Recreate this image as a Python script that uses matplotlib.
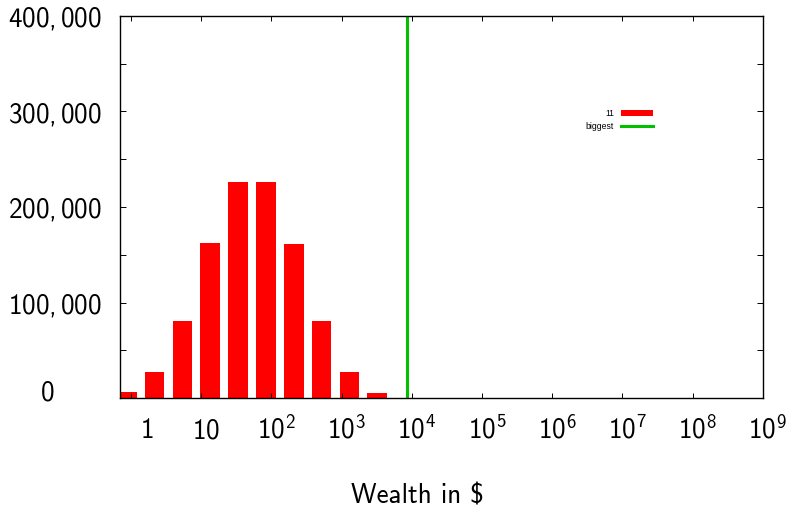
import numpy as np
import matplotlib
matplotlib.use("Agg")
import matplotlib.pyplot as plt
from matplotlib.transforms import ScaledTranslation

# Histogram of wealth (log-spaced bins)
bin_centers = [0.875, 2.17, 5.4, 13.4, 33.6, 83, 208, 515, 1290, 3180, 7980]
counts = [6300, 27200, 81100, 162700, 226100, 225800, 161600, 80800, 27200, 5900, 800]
biggest = 8650

xtick_vals = [1, 10, 1e2, 1e3, 1e4, 1e5, 1e6, 1e7, 1e8, 1e9]
xtick_labels = ["$1$", "$10$"] + [f"$10^{{{k}}}$" for k in range(2, 10)]
ytick_vals = [0, 100000, 200000, 300000, 400000]
ytick_labels = ["$0$", "$100,000$", "$200,000$", "$300,000$", "$400,000$"]

plt.rcParams["font.family"] = "cmss10"
plt.rcParams["mathtext.fontset"] = "custom"
plt.rcParams["mathtext.rm"] = "cmss10"
plt.rcParams["mathtext.it"] = "cmss10"
plt.rcParams["axes.unicode_minus"] = False

fig = plt.figure(figsize=(7.86, 5.07), dpi=100)
ax = fig.add_axes([120 / 786, 1 - 398.3 / 507, 642.7 / 786, 382.6 / 507])

# bars have constant width in log space (0.28 decade)
half = 10 ** 0.14
centers = np.array(bin_centers)
left = centers / half
right = centers * half
bars = ax.bar(left, counts, width=right - left, align="edge", color="#ff0000",
              linewidth=0, label="11")
vline = ax.axvline(biggest, color="#00c000", lw=2.2, label="biggest")

ax.set_xscale("log")
ax.set_xlim(0.697, 1e9)
ax.set_ylim(0, 400000)

ax.set_xticks(xtick_vals, xtick_labels, va="baseline", fontsize=19.5)
ax.xaxis.set_minor_locator(matplotlib.ticker.NullLocator())
ax.set_yticks(ytick_vals, ytick_labels, ha="center", fontsize=19.5)
ax.set_yticks(np.arange(50000, 400000, 100000), minor=True)

ax.tick_params(axis="x", which="both", direction="in", top=True, length=3.6,
               width=0.7, pad=28.6)
ax.tick_params(axis="y", which="both", direction="in", right=True, length=4.3,
               width=0.7, pad=47)
for s in ax.spines.values():
    s.set_linewidth(1.0)

# nudge labels like the original (gnuplot/latex placement)
for i, lbl in enumerate(ax.get_xticklabels()):
    dx = 16 if i == 0 else 5
    lbl.set_transform(lbl.get_transform() + ScaledTranslation(dx / 100, 0, fig.dpi_scale_trans))
ylbl0 = ax.get_yticklabels()[0]
ylbl0.set_transform(ylbl0.get_transform() + ScaledTranslation(-7 / 100, 8 / 100, fig.dpi_scale_trans))

ax.set_xlabel("Wealth in $", fontsize=19.5, va="top")
ax.xaxis.set_label_coords(0.463, -0.222)

leg = ax.legend([bars, vline], ["11", "biggest"], loc="upper right",
                bbox_to_anchor=(0.829, 0.755), frameon=False,
                prop={"family": "Liberation Sans", "size": 6.2}, markerfirst=False,
                handlelength=3.7, handletextpad=0.8, borderpad=0, borderaxespad=0,
                labelspacing=0.45)

fig.savefig("out.png", dpi=100)
